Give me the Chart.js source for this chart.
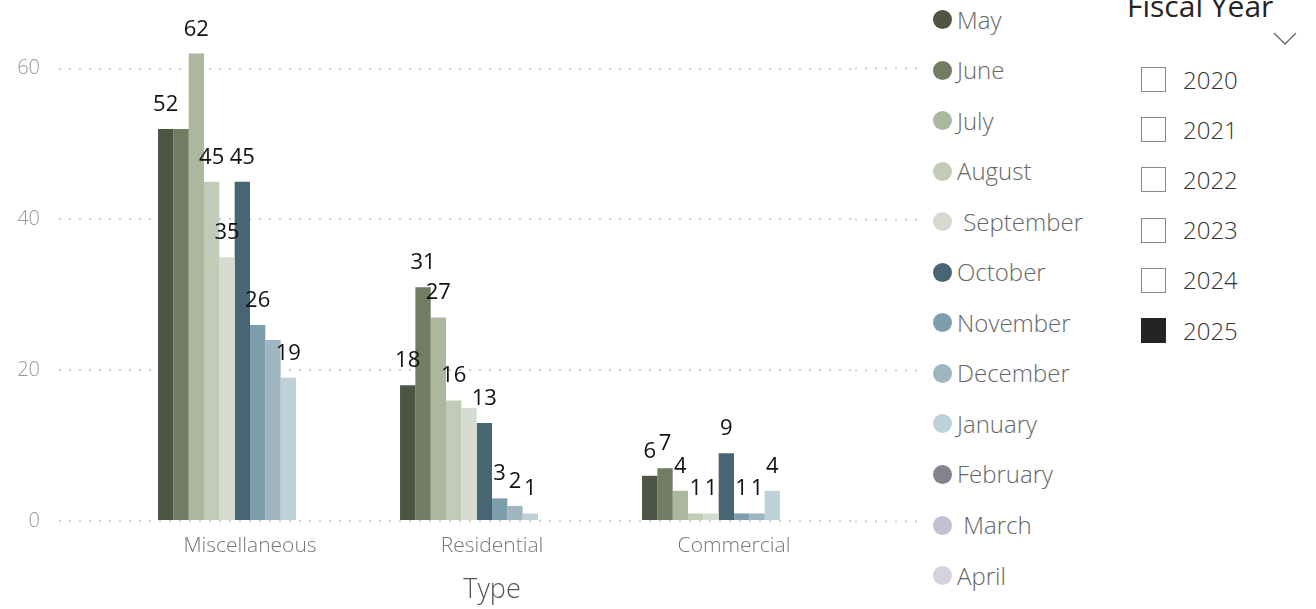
<!DOCTYPE html>
<html>
<head>
<meta charset="utf-8">
<script src="https://cdn.jsdelivr.net/npm/chart.js@4.4.1/dist/chart.umd.min.js"></script>
<style>
html,body{margin:0;padding:0;background:#fff;width:1316px;height:609px;overflow:hidden;font-family:"Open Sans",sans-serif;}
#wrap{position:absolute;left:0;top:0;width:932px;height:609px;}
.li{position:absolute;left:933px;height:24px;display:flex;align-items:center;white-space:pre;font-size:24px;font-weight:300;color:#666;line-height:24px;}
.dot{width:19px;height:19px;border-radius:50%;margin-right:5px;flex:none;}
#ftitle{position:absolute;left:1127px;top:-9px;font-size:30px;line-height:30px;color:#252423;white-space:nowrap;}
#chev{position:absolute;left:1272px;top:31px;}
.row{position:absolute;left:1141px;height:26px;display:flex;align-items:center;}
.box{width:23px;height:23px;border:1.5px solid #8a8a8a;box-sizing:content-box;flex:none;}
.box.on{background:#252423;border-color:#252423;}
.yr{margin-left:17px;font-size:24px;font-weight:300;color:#333;line-height:26px;}
</style>
</head>
<body>
<div id="wrap"><canvas id="c" width="932" height="609"></canvas></div>
<div id="legend"></div>
<div id="slicer">
  <div id="ftitle">Fiscal Year</div>
  <svg id="chev" width="28" height="16"><polyline points="2,2 13,13 24,2" fill="none" stroke="#666" stroke-width="1.3"/></svg>
</div>
<script>
// ---- data ----
const categories = ["Miscellaneous", "Residential", "Commercial"];
const months = ["May", "June", "July", "August", " September", "October", "November", "December", "January", "February", " March", "April"];
const valuesMay       = [52, 18, 6];
const valuesJune      = [52, 31, 7];
const valuesJuly      = [62, 27, 4];
const valuesAugust    = [45, 16, 1];
const valuesSeptember = [35, 15, 1];
const valuesOctober   = [45, 13, 9];
const valuesNovember  = [26, 3, 1];
const valuesDecember  = [24, 2, 1];
const valuesJanuary   = [19, 1, 4];
const valuesFebruary  = [null, null, null];
const valuesMarch     = [null, null, null];
const valuesApril     = [null, null, null];
const yTickValues = [0, 20, 40, 60];
const fiscalYears = ["2020", "2021", "2022", "2023", "2024", "2025"];
const selectedYear = "2025";

// ---- styles ----
const monthColors = ["#4E5443", "#717C63", "#ABB89D", "#C2CBB7", "#D5DBD0", "#476573",
                     "#7E9EAC", "#9FB6C1", "#BED0D8", "#87818F", "#C5BDD2", "#D7D1DE"];
const seriesValues = [valuesMay, valuesJune, valuesJuly, valuesAugust, valuesSeptember, valuesOctober,
                      valuesNovember, valuesDecember, valuesJanuary, valuesFebruary, valuesMarch, valuesApril];

const datasets = months.map((m, i) => ({
  label: m,
  data: seriesValues[i],
  backgroundColor: monthColors[i],
  borderWidth: 0,
  barPercentage: 1,
  categoryPercentage: 0.76
}));

const gridColor = "#d0d0d0";
const dash = [2, 8];
const setTicks = s => { s.ticks = yTickValues.map(v => ({ value: v })); };

const dataLabelPlugin = {
  id: "dataLabels",
  afterDatasetsDraw(chart) {
    const ctx = chart.ctx;
    ctx.save();
    ctx.font = '400 22px "Open Sans"';
    ctx.fillStyle = "#111";
    ctx.textAlign = "center";
    ctx.textBaseline = "alphabetic";
    const boxes = [];
    chart.data.datasets.forEach((ds, i) => {
      const meta = chart.getDatasetMeta(i);
      meta.data.forEach((bar, j) => {
        const v = ds.data[j];
        if (v == null) return;
        const txt = String(v);
        const w = ctx.measureText(txt).width;
        const base = bar.y - 18;
        const b = { l: bar.x - w / 2, r: bar.x + w / 2, t: base - 17, b: base + 1 };
        if (boxes.some(o => b.l < o.r && b.r > o.l && b.t < o.b && b.b > o.t)) return;
        boxes.push(b);
        ctx.fillText(txt, bar.x, base);
      });
    });
    ctx.restore();
  }
};

new Chart(document.getElementById("c"), {
  type: "bar",
  data: { labels: categories, datasets },
  plugins: [dataLabelPlugin],
  options: {
    responsive: false,
    animation: false,
    layout: { padding: { top: 30, left: 0, right: 11, bottom: 0 } },
    plugins: { legend: { display: false }, tooltip: { enabled: false } },
    scales: {
      x: {
        grid: { display: false },
        border: { display: false },
        ticks: { color: "#777", font: { family: "Open Sans", size: 21, weight: 300 }, padding: 4 },
        title: { display: true, text: "Type", color: "#555", font: { family: "Open Sans", size: 27, weight: 300 }, padding: { top: 0, bottom: 2 } },
        afterFit(s) { s.height = 88; }
      },
      y: {
        min: 0, max: 65,
        afterBuildTicks: setTicks,
        border: { display: false, dash: dash },
        grid: { color: gridColor, lineWidth: 2, drawTicks: true, tickLength: 70,
                tickColor: gridColor, tickBorderDash: dash, tickWidth: 2 },
        ticks: { color: "#999", font: { family: "Open Sans", size: 20, weight: 300 }, padding: 19 },
        afterFit(s) { s.width = 129; }
      },
      y2: {
        position: "right",
        min: 0, max: 65,
        afterBuildTicks: setTicks,
        border: { display: false, dash: dash },
        grid: { drawOnChartArea: false, drawTicks: true, tickLength: 66, tickColor: gridColor, tickBorderDash: dash, tickWidth: 2 },
        ticks: { display: false },
        afterFit(s) { s.width = 66; }
      }
    }
  }
});

// legend (HTML, built from the series)
const legend = document.getElementById("legend");
months.forEach((m, i) => {
  const cy = 19.5 + i * 50.55;
  const d = document.createElement("div");
  d.className = "li";
  d.style.top = (cy - 12) + "px";
  d.innerHTML = '<span class="dot" style="background:' + monthColors[i] + '"></span><span></span>';
  d.lastChild.textContent = m;
  legend.appendChild(d);
});

// slicer
const slicer = document.getElementById("slicer");
fiscalYears.forEach((y, i) => {
  const cy = 79.5 + i * 50.2;
  const r = document.createElement("div");
  r.className = "row";
  r.style.top = (cy - 13) + "px";
  r.innerHTML = '<span class="box' + (y === selectedYear ? ' on' : '') + '"></span><span class="yr"></span>';
  r.lastChild.textContent = y;
  slicer.appendChild(r);
});
</script>
</body>
</html>
